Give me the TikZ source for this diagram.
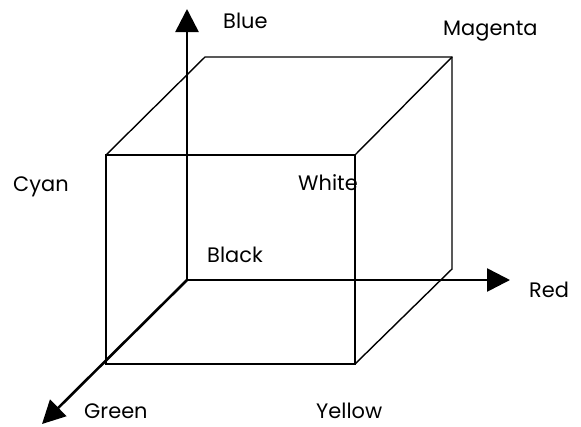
\documentclass[tikz,border=0pt]{standalone}
\usepackage{fontspec}
\setmainfont{Poppins}
\usepackage{tikz}
\usetikzlibrary{arrows.meta,positioning}

\begin{document}
\begin{tikzpicture}[x=1bp, y=-1bp,
  >={Triangle[length=23bp, width=23bp]},
  axis/.style={line width=2.6bp, ->},
  edge/.style={line width=1.4bp, line join=miter},
  clab/.style={font=\fontsize{21}{25}\selectfont, inner sep=0pt, anchor=base west},
]
\useasboundingbox (0,0) rectangle (581,426);
% corners of the cube
\coordinate (FTL) at (106,155);
\coordinate (FTR) at (355,155);
\coordinate (FBR) at (355,364);
\coordinate (FBL) at (106,364);
\coordinate (BTL) at (205,57);
\coordinate (BTR) at (452,57);
\coordinate (BBR) at (452,269);
% axes
\coordinate (O) at (187,280);
\coordinate (Bend) at (187,9);
\coordinate (Rend) at (510,280);
\coordinate (Gend) at (42,424);
\draw[edge] (FTL) -- (FTR) -- (FBR) -- (FBL) -- cycle;
\draw[edge] (FTL) -- (BTL) -- (BTR) -- (BBR) -- (FBR);
\draw[edge] (FTR) -- (BTR);
\draw[axis] (O) -- (Bend);
\draw[axis] (O) -- (Rend);
\draw[axis] (O) -- (Gend);
% labels
\node[clab] (blue) at (223,28) {Blue};
\node[clab] (magenta) at (443,35) {Magenta};
\node[clab] (cyan) at (13,191) {Cyan};
\node[clab] (white) at (298,190) {White};
\node[clab] (black) at (207,262) {Black};
\node[clab] (red) at (529,297) {Red};
\node[clab] (green) at (84,418) {Green};
\node[clab] (yellow) at (316,418) {Yellow};
\end{tikzpicture}
\end{document}
